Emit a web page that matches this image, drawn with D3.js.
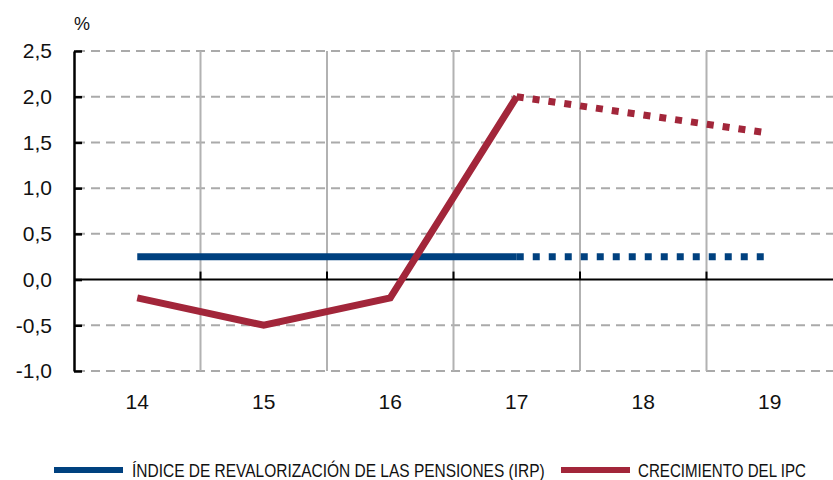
<html>
<head>
    <script src="https://d3js.org/d3.v7.min.js"></script>
    <style type="text/css">
        body { margin: 0; background: #fff; }
        text { font-family: "Liberation Sans", Arial, sans-serif; fill: #111; }
        .grid-h { stroke: #aaa; stroke-width: 2; stroke-dasharray: 9,6; }
        .grid-v { stroke: #b2b2b2; stroke-width: 2; }
        .legend text { font-family: "Liberation Sans Narrow", "Liberation Sans", sans-serif; font-size: 18px; }
    </style>
</head>
<body>
    <svg id="chart"></svg>
    <script>
        var Years = ["14", "15", "16", "17", "18", "19"];
        var IRP = [0.25, 0.25, 0.25, 0.25, 0.25, 0.25];
        var IPC = [-0.2, -0.5, -0.2, 2.0, 1.8, 1.6];
        var YTicks = [-1.0, -0.5, 0.0, 0.5, 1.0, 1.5, 2.0, 2.5];
        var ForecastFrom = 3;   // from 17 on, dotted

        var SeriesNames = ["ÍNDICE DE REVALORIZACIÓN DE LAS PENSIONES (IRP)", "CRECIMIENTO DEL IPC"];
        var Colors = ["#00417f", "#a2263a"];

        var Width = 833, Height = 480;
        var Left = 74, Right = 833, Top = 51, Bottom = 371;

        var svg = d3.select("#chart").attr("width", Width).attr("height", Height);

        var x = d3.scaleBand().domain(Years).range([Left, Right]);
        var y = d3.scaleLinear().domain([-1, 2.5]).range([Bottom, Top]);

        function cx(d, i) { return x(Years[i]) + x.bandwidth()/2; }
        function fmt(v) { return d3.format(".1f")(v).replace(".", ",").replace("\u2212", "-"); }

        // horizontal dashed grid
        svg.append("g").selectAll("line")
            .data(YTicks.filter(function(v){ return v != 0; }))
            .enter().append("line").classed("grid-h", true)
                .attr("x1", Left + 2).attr("x2", Right)
                .attr("y1", function(d){ return y(d); })
                .attr("y2", function(d){ return y(d); });

        // vertical grid at category boundaries
        var bounds = Years.slice(1).map(function(c){ return x(c); });
        svg.append("g").selectAll("line")
            .data(bounds)
            .enter().append("line").classed("grid-v", true)
                .attr("x1", function(d){ return d; }).attr("x2", function(d){ return d; })
                .attr("y1", Top).attr("y2", Bottom);

        // zero line with small ticks
        svg.append("line")
            .attr("x1", Left).attr("x2", Right)
            .attr("y1", y(0)).attr("y2", y(0))
            .attr("stroke", "#000").attr("stroke-width", 2);
        svg.append("g").selectAll("line")
            .data(bounds)
            .enter().append("line")
                .attr("x1", function(d){ return d; }).attr("x2", function(d){ return d; })
                .attr("y1", y(0)).attr("y2", y(0) - 8)
                .attr("stroke", "#000").attr("stroke-width", 2);

        // y axis
        var yAxis = svg.append("g")
            .attr("transform", "translate(" + Left + ",0)")
            .call(d3.axisLeft(y).tickValues(YTicks).tickFormat(fmt)
                .tickSizeInner(-8).tickSizeOuter(0).tickPadding(22));
        yAxis.selectAll("line").attr("stroke", "#000").attr("stroke-width", 2.5);
        yAxis.select(".domain").attr("stroke", "#000").attr("stroke-width", 2.5);
        yAxis.selectAll("text").style("font-size", "21px").attr("font-family", null).attr("fill", "#111");

        // x axis labels
        var xAxis = svg.append("g")
            .attr("transform", "translate(0," + Bottom + ")")
            .call(d3.axisBottom(x).tickSize(0).tickPadding(23));
        xAxis.select(".domain").remove();
        xAxis.selectAll("text").style("font-size", "21px").attr("font-family", null).attr("fill", "#111");

        svg.append("text").attr("x", 74).attr("y", 30)
            .style("font-size", "18px").text("%");

        // series
        var line = d3.line()
            .x(function(d){ return d.x; })
            .y(function(d){ return y(d.v); });

        function draw(values, color) {
            var pts = values.map(function(v, i){ return { x: cx(v, i), v: v }; });
            svg.append("path")
                .attr("d", line(pts.slice(0, ForecastFrom + 1)))
                .attr("fill", "none").attr("stroke", color).attr("stroke-width", 7)
                .attr("stroke-linejoin", "miter");
            svg.append("path")
                .attr("d", line(pts.slice(ForecastFrom)))
                .attr("fill", "none").attr("stroke", color).attr("stroke-width", 7)
                .attr("stroke-dasharray", "7,9");
        }
        draw(IRP, Colors[0]);
        draw(IPC, Colors[1]);

        // legend, text squeezed to the narrow width of the original
        var legend = svg.append("g").classed("legend", true);
        var LegendItems = [
            { lx: 54, tx: 132, tw: 413 },
            { lx: 561, tx: 638, tw: 168 }
        ];
        LegendItems.forEach(function(it, i){
            legend.append("line")
                .attr("x1", it.lx).attr("x2", it.lx + 69)
                .attr("y1", 470).attr("y2", 470)
                .attr("stroke", Colors[i]).attr("stroke-width", 6);
            var g = legend.append("g");
            var t = g.append("text").attr("x", 0).attr("y", 0).text(SeriesNames[i]);
            var w = t.node().getComputedTextLength();
            g.attr("transform", "translate(" + it.tx + ",476.5) scale(" + (it.tw / w) + ",1)");
        });
    </script>
</body>
</html>
